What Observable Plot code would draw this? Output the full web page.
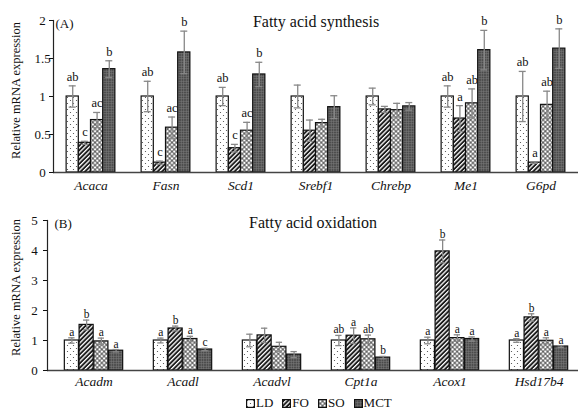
<!DOCTYPE html>
<html>
<head>
<meta charset="utf-8">
<script src="https://cdn.jsdelivr.net/npm/d3@7"></script>
<script src="https://cdn.jsdelivr.net/npm/@observablehq/plot@0.6"></script>
<style>
  body { margin: 0; background: white; font-family: "Liberation Serif", "Times New Roman", Times, serif; }
  #wrap { position: relative; width: 578px; height: 414px; overflow: hidden; }
  #wrap svg.plot { display: block; font-family: "Liberation Serif", "Times New Roman", Times, serif !important; }
  #wrap svg.plot text { font-family: "Liberation Serif", "Times New Roman", Times, serif; }
  #legend { position: absolute; left: 246px; top: 395px; display: flex; gap: 9px; font-size: 13px; line-height: 16px; color: #111; }
  #legend span { display: flex; align-items: center; gap: 1px; }
</style>
</head>
<body>
<svg width="0" height="0" style="position:absolute">
  <defs>
    <pattern id="pLD" width="6" height="6" patternUnits="userSpaceOnUse">
      <rect width="6" height="6" fill="white"/>
      <circle cx="1.5" cy="1.5" r="0.6" fill="#444"/>
      <circle cx="4.5" cy="4.5" r="0.6" fill="#444"/>
    </pattern>
    <pattern id="pFO" width="3.2" height="3.2" patternUnits="userSpaceOnUse" patternTransform="rotate(45)">
      <rect width="3.2" height="3.2" fill="#1a1a1a"/>
      <rect width="1.3" height="3.2" fill="white"/>
    </pattern>
    <pattern id="pSO" width="3.2" height="3.2" patternUnits="userSpaceOnUse" patternTransform="rotate(45)">
      <rect width="3.2" height="3.2" fill="white"/>
      <path d="M0 1.6H3.2M1.6 0V3.2" stroke="#2a2a2a" stroke-width="0.75"/>
    </pattern>
    <pattern id="pMCT" width="2.5" height="2.5" patternUnits="userSpaceOnUse">
      <rect width="2.5" height="2.5" fill="#4a4a4a"/>
      <path d="M0 1.25H2.5M1.25 0V2.5" stroke="#7a7a7a" stroke-width="0.6"/>
    </pattern>
  </defs>
</svg>
<div id="wrap"></div>
<script>
const groups = ["LD", "FO", "SO", "MCT"];

// Panel A: fatty acid synthesis
const synthGenes = ["Acaca", "Fasn", "Scd1", "Srebf1", "Chrebp", "Me1", "G6pd"];
const synthLD = [1, 1, 1, 1, 1, 1, 1];
const synthLDErr = [0.14, 0.20, 0.12, 0.15, 0.11, 0.14, 0.33];
const synthFO = [0.39, 0.13, 0.32, 0.55, 0.83, 0.71, 0.13];
const synthFOErr = [0.02, 0.02, 0.05, 0.14, 0.04, 0.17, 0.01];
const synthSO = [0.69, 0.59, 0.55, 0.65, 0.82, 0.91, 0.89];
const synthSOErr = [0.10, 0.14, 0.11, 0.05, 0.09, 0.19, 0.18];
const synthMCT = [1.36, 1.58, 1.29, 0.86, 0.87, 1.61, 1.63];
const synthMCTErr = [0.11, 0.28, 0.16, 0.15, 0.05, 0.26, 0.26];
const synthLDSig = ["ab", "ab", "ab", "", "", "ab", "ab"];
const synthFOSig = ["c", "c", "c", "", "", "a", "a"];
const synthSOSig = ["ac", "ac", "ac", "", "", "ab", "ab"];
const synthMCTSig = ["b", "b", "b", "", "", "b", "b"];
const synthTicks = [0, 0.5, 1, 1.5, 2];

// Panel B: fatty acid oxidation
const oxGenes = ["Acadm", "Acadl", "Acadvl", "Cpt1a", "Acox1", "Hsd17b4"];
const oxLD = [1, 1, 1, 1, 1, 1];
const oxLDErr = [0.09, 0.08, 0.21, 0.17, 0.11, 0.06];
const oxFO = [1.52, 1.40, 1.17, 1.16, 3.97, 1.77];
const oxFOErr = [0.16, 0.08, 0.24, 0.26, 0.38, 0.12];
const oxSO = [0.97, 1.05, 0.79, 1.04, 1.08, 0.99];
const oxSOErr = [0.11, 0.09, 0.15, 0.14, 0.11, 0.10];
const oxMCT = [0.66, 0.70, 0.53, 0.43, 1.05, 0.80];
const oxMCTErr = [0.04, 0.04, 0.10, 0.04, 0.07, 0.03];
const oxLDSig = ["a", "a", "", "ab", "a", "a"];
const oxFOSig = ["b", "b", "", "a", "b", "b"];
const oxSOSig = ["a", "a", "", "ab", "a", "a"];
const oxMCTSig = ["a", "c", "", "b", "a", "a"];
const oxTicks = [0, 1, 2, 3, 4, 5];

const FONT = '"Liberation Serif", "Times New Roman", Times, serif';

function panel(cfg) {
  const step = (cfg.xRange[1] - cfg.xRange[0]) / cfg.genes.length;
  const w = cfg.groupSpan / 4;
  const o = (step - cfg.groupSpan) / 2;
  const marks = [];
  cfg.series.forEach((s, i) => {
    const rows = cfg.genes.map((g, j) => ({gene: g, value: s.values[j], err: s.errs[j], sig: s.sigs[j]}));
    const dx = (i - 1.5) * w;
    marks.push(Plot.barY(rows, {x: "gene", y: "value", fill: `url(#p${s.group})`, stroke: "#111", strokeWidth: 1.2,
      insetLeft: o + i * w, insetRight: step - o - (i + 1) * w}));
    marks.push(Plot.ruleX(rows, {x: "gene", y1: d => d.value - d.err, y2: d => d.value + d.err, dx, stroke: "#888", strokeWidth: 1.3}));
    for (const sign of [1, -1]) {
      marks.push(Plot.tickY(rows, {x: "gene", y: d => d.value + sign * d.err, dx, stroke: "#888", strokeWidth: 1.3,
        insetLeft: step / 2 - cfg.cap, insetRight: step / 2 - cfg.cap}));
    }
    marks.push(Plot.text(rows.filter(d => d.sig), {x: "gene", y: d => d.value + d.err, text: "sig", dx, dy: cfg.sigDy,
      lineAnchor: "bottom", fontSize: cfg.sigSize, fill: "#111", fontFamily: FONT}));
  });
  marks.push(Plot.ruleY([0], {stroke: "#444", strokeWidth: 1.6}));
  marks.push(Plot.frame({anchor: "left", stroke: "#222", strokeWidth: 1.2}));
  marks.push(Plot.axisY({ticks: cfg.ticks, tickSize: 4, tickPadding: cfg.tickPad, textAnchor: "middle", fontSize: 13, fontFamily: FONT, label: null, tickFormat: d => String(d)}));
  marks.push(Plot.axisX({tickSize: 0, tickPadding: cfg.xPad, fontSize: 13.5, fontStyle: "italic", fontFamily: FONT, label: null}));
  marks.push(Plot.text([cfg.title], {frameAnchor: "top", dy: cfg.titleDy, lineAnchor: "middle", fontSize: 16, fontFamily: FONT, text: d => d}));
  marks.push(Plot.text([cfg.tag], {frameAnchor: "top-left", textAnchor: "start", dx: cfg.tagDx, dy: cfg.tagDy, lineAnchor: "middle", fontSize: 13, fontFamily: FONT, text: d => d}));
  marks.push(Plot.text(["Relative mRNA expression"], {frameAnchor: "left", textAnchor: "middle", rotate: -90, dx: cfg.ylabDx, dy: cfg.ylabDy, fontSize: 12.5, fontFamily: FONT, text: d => d}));
  const svg = Plot.plot({
    width: 578,
    height: cfg.height,
    marginTop: cfg.marginTop,
    marginBottom: cfg.marginBottom,
    marginLeft: cfg.xRange[0],
    marginRight: 0,
    style: {fontFamily: FONT, color: "#111", background: "white"},
    x: {type: "band", domain: cfg.genes, range: cfg.xRange, padding: 0, axis: null},
    y: {domain: cfg.yDomain, axis: null},
    marks
  });
  svg.setAttribute("font-family", FONT);
  return svg;
}

const wrap = document.getElementById("wrap");

const topPanel = panel({
  genes: synthGenes,
  series: [
    {group: "LD", values: synthLD, errs: synthLDErr, sigs: synthLDSig},
    {group: "FO", values: synthFO, errs: synthFOErr, sigs: synthFOSig},
    {group: "SO", values: synthSO, errs: synthSOErr, sigs: synthSOSig},
    {group: "MCT", values: synthMCT, errs: synthMCTErr, sigs: synthMCTSig}
  ],
  yDomain: [0, 2], ticks: synthTicks,
  height: 200, marginTop: 20, marginBottom: 28,
  xRange: [53, 578], groupSpan: 48.75, cap: 3.5,
  sigDy: -5, sigSize: 12.5, tickPad: 7, xPad: 8,
  title: "Fatty acid synthesis", titleDy: 1,
  tag: "(A)", tagDx: 2, tagDy: 3,
  ylabDx: -38, ylabDy: -6
});
topPanel.classList.add("plot");
wrap.appendChild(topPanel);

const bottomPanel = panel({
  genes: oxGenes,
  series: [
    {group: "LD", values: oxLD, errs: oxLDErr, sigs: oxLDSig},
    {group: "FO", values: oxFO, errs: oxFOErr, sigs: oxFOSig},
    {group: "SO", values: oxSO, errs: oxSOErr, sigs: oxSOSig},
    {group: "MCT", values: oxMCT, errs: oxMCTErr, sigs: oxMCTSig}
  ],
  yDomain: [0, 5], ticks: oxTicks,
  height: 195, marginTop: 20, marginBottom: 25,
  xRange: [47, 585], groupSpan: 59, cap: 3.5,
  sigDy: -2, sigSize: 11.5, tickPad: 9, xPad: 6,
  title: "Fatty acid oxidation", titleDy: 2,
  tag: "(B)", tagDx: 7, tagDy: 3,
  ylabDx: -32, ylabDy: -8
});
bottomPanel.classList.add("plot");
wrap.appendChild(bottomPanel);

// legend
const legend = document.createElement("div");
legend.id = "legend";
for (const g of groups) {
  const item = document.createElement("span");
  item.innerHTML = `<svg width="9" height="9"><rect x="0.6" y="0.6" width="7.8" height="7.8" fill="url(#p${g})" stroke="#111" stroke-width="1.2"/></svg>${g}`;
  legend.appendChild(item);
}
wrap.appendChild(legend);
</script>
</body>
</html>
